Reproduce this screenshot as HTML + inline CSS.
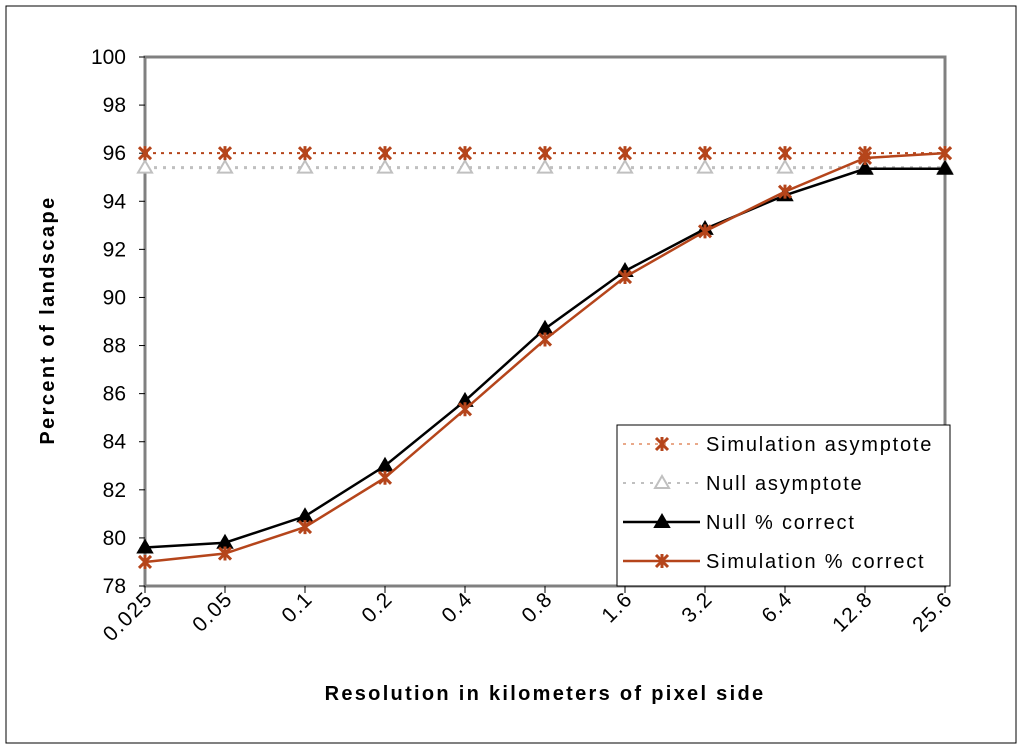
<!DOCTYPE html>
<html><head><meta charset="utf-8"><style>
html,body{margin:0;padding:0;background:#fff;}
svg{display:block;font-family:"Liberation Sans",sans-serif;}
</style></head><body>
<svg id="c" width="1024" height="752">
<rect x="6" y="6" width="1010" height="737" fill="#fff" stroke="#000" stroke-width="1"/>
<rect x="145" y="57" width="800" height="529" fill="#fff" stroke="#808080" stroke-width="3"/>
<g id="axes"></g>
<g id="series"></g>
<text x="545" y="700" text-anchor="middle" font-size="20" font-weight="bold" letter-spacing="2.3">Resolution in kilometers of pixel side</text>
<text transform="translate(54,320) rotate(-90)" text-anchor="middle" font-size="20" font-weight="bold" letter-spacing="2.4">Percent of landscape</text>
<g id="legend">
<rect x="617" y="425" width="333" height="161" fill="#fff" stroke="#000" stroke-width="1"/>
</g>
</svg>
<script>
const categories=["0.025","0.05","0.1","0.2","0.4","0.8","1.6","3.2","6.4","12.8","25.6"];
const yTicks=[78,80,82,84,86,88,90,92,94,96,98,100];
const nullCorrect=[79.6,79.8,80.9,83.0,85.7,88.7,91.1,92.85,94.25,95.35,95.35];
const simCorrect=[79.0,79.35,80.45,82.5,85.35,88.25,90.85,92.75,94.4,95.8,96.0];
const simAsym=[96,96,96,96,96,96,96,96,96,96,96];
const nullAsym=[95.4,95.4,95.4,95.4,95.4,95.4,95.4,95.4,95.4,95.4,95.4];
const NS="http://www.w3.org/2000/svg";
const X0=145,X1=945,Y0=586,Y1=57,YMIN=78,YMAX=100;
function xs(i){return X0+i*(X1-X0)/(categories.length-1);}
function ys(v){return Y0-(v-YMIN)/(YMAX-YMIN)*(Y0-Y1);}
function mk(tag,attrs,parent){const e=document.createElementNS(NS,tag);for(const k in attrs)e.setAttribute(k,attrs[k]);parent.appendChild(e);return e;}
const ax=document.getElementById('axes');
yTicks.forEach(v=>{
  mk('line',{x1:139,x2:145,y1:ys(v),y2:ys(v),stroke:'#000'},ax);
  const t=mk('text',{x:126,y:ys(v)+7,'text-anchor':'end','font-size':21},ax);
  t.textContent=v;
  
  
});
categories.forEach((c,i)=>{
  mk('line',{x1:xs(i),x2:xs(i),y1:586,y2:593,stroke:'#000'},ax);
  const t=mk('text',{transform:`translate(${xs(i)+9},${600}) rotate(-45)`,'text-anchor':'end','font-size':21,'letter-spacing':1.5},ax);
  t.textContent=c;
  
  
});
function star(g,x,y,col){
  const s=6;
  mk('path',{d:`M${x-s} ${y-s}L${x+s} ${y+s}M${x-s} ${y+s}L${x+s} ${y-s}M${x} ${y-s-1}L${x} ${y+s+1}`,stroke:col,'stroke-width':3,fill:'none'},g);
}
function tri(g,x,y,fill,stroke){
  mk('path',{d:`M${x} ${y-7}L${x+7} ${y+5}L${x-7} ${y+5}Z`,fill:fill,stroke:stroke,'stroke-width':2},g);
}
const sg=document.getElementById('series');
function series(name,vals,col,dash,w,marker){
  const g=mk('g',{},sg);
  
  
  const a={points:vals.map((v,i)=>xs(i)+','+ys(v)).join(' '),fill:'none',stroke:col,'stroke-width':w};
  if(dash)a['stroke-dasharray']=dash;
  mk('polyline',a,g);
  vals.forEach((v,i)=>marker(g,xs(i),ys(v)));
}
series('null-asymptote-series',nullAsym,'#c0c0c0','3,6',3,(g,x,y)=>tri(g,x,y,'#fff','#c0c0c0'));
series('simulation-asymptote-series',simAsym,'#b5451b','3,5',2,(g,x,y)=>star(g,x,y,'#b5451b'));
series('null-correct-series',nullCorrect,'#000',null,2.5,(g,x,y)=>tri(g,x,y,'#000','#000'));
series('simulation-correct-series',simCorrect,'#b5451b',null,2.5,(g,x,y)=>star(g,x,y,'#b5451b'));
const lg=document.getElementById('legend');
const items=[["Simulation asymptote",'#e9a98a','3,5',(g,x,y)=>star(g,x,y,'#b5451b')],
["Null asymptote",'#c0c0c0','3,6',(g,x,y)=>tri(g,x,y,'#fff','#c0c0c0')],
["Null % correct",'#000',null,(g,x,y)=>tri(g,x,y,'#000','#000')],
["Simulation % correct",'#b5451b',null,(g,x,y)=>star(g,x,y,'#b5451b')]];
items.forEach((it,k)=>{
  const y=444+k*39;
  const g=mk('g',{},lg);
  
  
  const a={x1:623,x2:700,y1:y,y2:y,stroke:it[1],'stroke-width':it[2]?2:2.5};
  if(it[2])a['stroke-dasharray']=it[2];
  mk('line',a,g);
  it[3](g,662,y);
  const t=mk('text',{x:706,y:y+7,'font-size':20,'letter-spacing':1.8},g);
  t.textContent=it[0];
});
</script>
</body></html>
